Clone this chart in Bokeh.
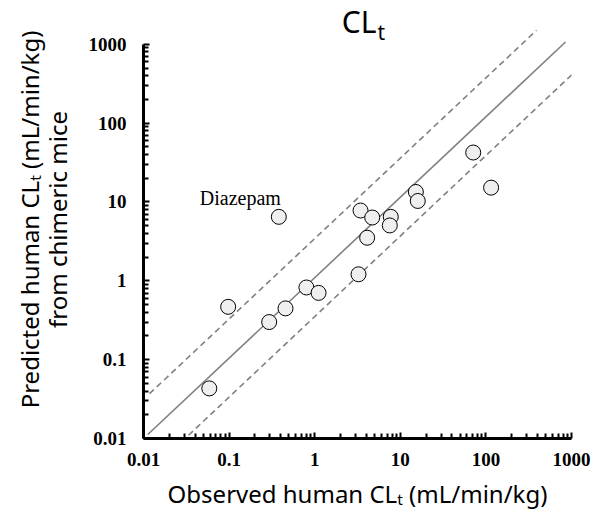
from bokeh.plotting import figure
from bokeh.models import Label, FixedTicker, CustomJSTickFormatter, Range1d
from bokeh.core.properties import value
from bokeh.embed import file_html
from bokeh.resources import INLINE

# ---- data ----
observed = [71.1, 115, 15.2, 16.0, 3.43, 4.70, 7.74, 7.54, 4.10, 3.25,
            0.0975, 0.80, 1.11, 0.456, 0.294, 0.0587, 0.381]
predicted = [42.4, 15.2, 13.4, 10.3, 7.79, 6.35, 6.48, 5.04, 3.52, 1.21,
             0.468, 0.823, 0.703, 0.447, 0.300, 0.0432, 6.48]
label_name = "Diazepam"
label_index = 16

unity_x = [0.01123, 851]
unity_y = [0.01123, 1069]
upper_x = [0.01175, 390]
upper_y = [0.037, 1503]
lower_x = [0.0336, 1047]
lower_y = [0.0110, 427]

tick_vals = [0.01, 0.1, 1, 10, 100, 1000]
tick_labels = ["0.01", "0.1", "1", "10", "100", "1000"]

title_main = "CL"
title_sub = "t"
x_title = "Observed human CL\u209c (mL/min/kg)"
y_title = "Predicted human CL\u209c (mL/min/kg)\nfrom chimeric mice"

# ---- layout helpers (pixel -> data) ----
X0, X1 = 143, 571   # px of x=0.01 and x=1000
Y0, Y1 = 440, 44    # px of y=0.01 and y=1000


def dx(px):
    return 10 ** (-2 + 5 * (px - X0) / (X1 - X0))


def dy(py):
    return 10 ** (-2 + 5 * (Y0 - py) / (Y0 - Y1))


W, H = 593, 512
y_top = dy(0)

p = figure(width=W, height=H, x_axis_type="log", y_axis_type="log",
           x_range=Range1d(0.01, 1000), y_range=Range1d(0.01, y_top),
           output_backend="svg", toolbar_location=None, title=None,
           min_border_left=X0, min_border_right=W - X1,
           min_border_top=0, min_border_bottom=H - Y0)
p.grid.visible = False
p.outline_line_color = None
p.background_fill_color = "white"
p.border_fill_color = "white"

SANS = "Noto Sans"

minor = [m * v for v in tick_vals[:-1] for m in range(2, 10)]
for ax, standoff in ((p.xaxis[0], 14), (p.yaxis[0], 17)):
    ax.bounds = (tick_vals[0], tick_vals[-1])
    ax.ticker = FixedTicker(ticks=tick_vals, minor_ticks=minor)
    ax.formatter = CustomJSTickFormatter(args=dict(vals=tick_vals, labs=tick_labels), code="""
        let best = 0, bd = Infinity;
        for (let i = 0; i < vals.length; i++) {
            const d = Math.abs(Math.log10(vals[i]) - Math.log10(tick));
            if (d < bd) { bd = d; best = i; }
        }
        return labs[best];
    """)
    ax.axis_line_width = 3
    ax.axis_line_color = "black"
    ax.major_tick_in = 6
    ax.major_tick_out = 0
    ax.minor_tick_in = 5
    ax.minor_tick_out = 0
    ax.major_tick_line_width = 2
    ax.minor_tick_line_width = 2
    ax.major_tick_line_color = "black"
    ax.minor_tick_line_color = "black"
    ax.major_label_text_font = "Liberation Serif"
    ax.major_label_text_font_style = "bold"
    ax.major_label_text_font_size = "19px"
    ax.major_label_text_color = "black"
    ax.major_label_standoff = standoff
    ax.axis_label_text_font = SANS
    ax.axis_label_text_font_style = "normal"
    ax.axis_label_text_font_size = "24px"
    ax.axis_label_text_color = "black"

p.xaxis.axis_label = x_title
p.xaxis.axis_label_standoff = 8
p.yaxis.axis_label = y_title
p.yaxis.axis_label_standoff = 12
p.yaxis.axis_label_text_line_height = 0.83

# reference lines
p.line(unity_x, unity_y, line_color="#808080", line_width=1.6)
p.line(upper_x, upper_y, line_color="#808080", line_width=1.6, line_dash="6 4")
p.line(lower_x, lower_y, line_color="#808080", line_width=1.6, line_dash="6 4")

# points
p.scatter(observed, predicted, marker="circle", size=15, fill_color="#efefef",
          line_color="black", line_width=1)

p.text(x=[observed[label_index]], y=[predicted[label_index]], text=[label_name],
       text_font=value("Liberation Serif"), text_font_size="20px",
       text_align="right", text_baseline="alphabetic", x_offset=2, y_offset=-19,
       text_color="black")

# title CL_t
p.add_layout(Label(x=dx(376), y=dy(21), text=title_main, text_font=SANS, text_font_size="30px",
                   text_align="right", text_baseline="alphabetic", text_color="black"))
p.add_layout(Label(x=dx(377), y=dy(32), text=title_sub, text_font=SANS, text_font_size="21px",
                   text_align="left", text_baseline="alphabetic", text_color="black"))

open("out.html", "w").write(file_html(p, INLINE))
